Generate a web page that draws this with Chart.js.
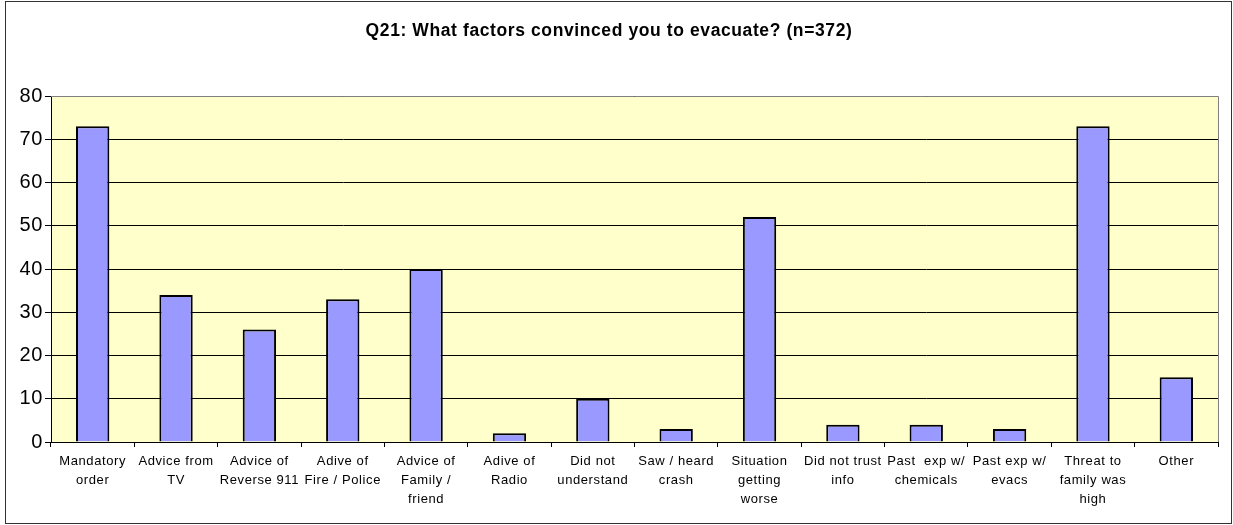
<!DOCTYPE html>
<html>
<head>
<meta charset="utf-8">
<script src="https://cdn.jsdelivr.net/npm/chart.js@4/dist/chart.umd.min.js"></script>
<style>
  html, body { margin: 0; padding: 0; background: #fff; }
  #wrap { width: 1233px; height: 525px; position: relative; }
</style>
</head>
<body>
<div id="wrap"><canvas id="grafico"></canvas></div>
<script>
// categorias (en varias lineas como en el eje)
var categorias = [
  ['Mandatory', 'order'],
  ['Advice from', 'TV'],
  ['Advice of', 'Reverse 911'],
  ['Adive of', 'Fire / Police'],
  ['Advice of', 'Family /', 'friend'],
  ['Adive of', 'Radio'],
  ['Did not', 'understand'],
  ['Saw / heard', 'crash'],
  ['Situation', 'getting', 'worse'],
  ['Did not trust', 'info'],
  ['Past  exp w/', 'chemicals'],
  ['Past exp w/', 'evacs'],
  ['Threat to', 'family was', 'high'],
  ['Other']
];
var respuestas = [73, 34, 26, 33, 40, 2, 10, 3, 52, 4, 4, 3, 73, 15];
var ticksY = [0, 10, 20, 30, 40, 50, 60, 70, 80];
var titulo = 'Q21: What factors convinced you to evacuate? (n=372)';

// fondo amarillo del area y marcos
var fondoPlugin = {
  id: 'fondo',
  beforeDraw: function(chart) {
    var ctx = chart.ctx;
    var a = chart.chartArea;
    ctx.save();
    ctx.fillStyle = '#fff';
    ctx.fillRect(0, 0, chart.width, chart.height);
    ctx.fillStyle = '#FFFFCC';
    ctx.fillRect(a.left, a.top, a.right - a.left, a.bottom - a.top);
    ctx.restore();
    ctx.letterSpacing = '0.6px'; // texto algo mas espaciado
  },
  afterDraw: function(chart) {
    var ctx = chart.ctx;
    var a = chart.chartArea;
    ctx.save();
    ctx.strokeStyle = '#808080';
    ctx.lineWidth = 1;
    ctx.beginPath();
    ctx.moveTo(a.left, a.top + 0.5);
    ctx.lineTo(a.right + 0.5, a.top + 0.5);
    ctx.lineTo(a.right + 0.5, a.bottom);
    ctx.stroke();
    // marco exterior
    ctx.strokeStyle = '#333';
    ctx.strokeRect(5.5, 1.5, 1226, 522);
    ctx.restore();
  }
};

var ctx = document.getElementById('grafico').getContext('2d');
var grafico = new Chart(ctx, {
  type: 'bar',
  data: {
    labels: categorias,
    datasets: [{
      label: 'Q21',
      data: respuestas,
      backgroundColor: '#9999FF',
      borderColor: '#000',
      borderWidth: 2,
      borderSkipped: 'bottom',
      barPercentage: 0.4,
      categoryPercentage: 1.0
    }]
  },
  options: {
    responsive: true,
    maintainAspectRatio: false,
    animation: false,
    layout: { padding: { left: 0, right: 15, top: 0, bottom: 0 } },
    plugins: {
      legend: { display: false },
      tooltip: { enabled: false },
      title: {
        display: true,
        text: titulo,
        color: '#000',
        font: { family: 'Arial, "Liberation Sans", sans-serif', size: 17.5, weight: 'bold' },
        padding: { top: 21, bottom: 54 }
      }
    },
    scales: {
      x: {
        afterFit: function(scale) { scale.height = 83; },
        grid: {
          offset: true,
          drawOnChartArea: false,
          color: '#000',
          tickLength: 5
        },
        border: { color: '#000', width: 1 },
        ticks: {
          autoSkip: false,
          maxRotation: 0,
          minRotation: 0,
          padding: 5,
          color: '#000',
          font: { family: 'Arial, "Liberation Sans", sans-serif', size: 13, lineHeight: 1.45 }
        }
      },
      y: {
        min: 0,
        max: 80,
        afterFit: function(scale) { scale.width = 51; },
        afterBuildTicks: function(scale) {
          scale.ticks = ticksY.map(function(v) { return { value: v }; });
        },
        grid: {
          color: '#000',
          lineWidth: 1,
          tickLength: 6
        },
        border: { color: '#000', width: 1 },
        ticks: {
          padding: 2,
          color: '#000',
          font: { family: 'Arial, "Liberation Sans", sans-serif', size: 20 }
        }
      }
    }
  },
  plugins: [fondoPlugin]
});
</script>
</body>
</html>
